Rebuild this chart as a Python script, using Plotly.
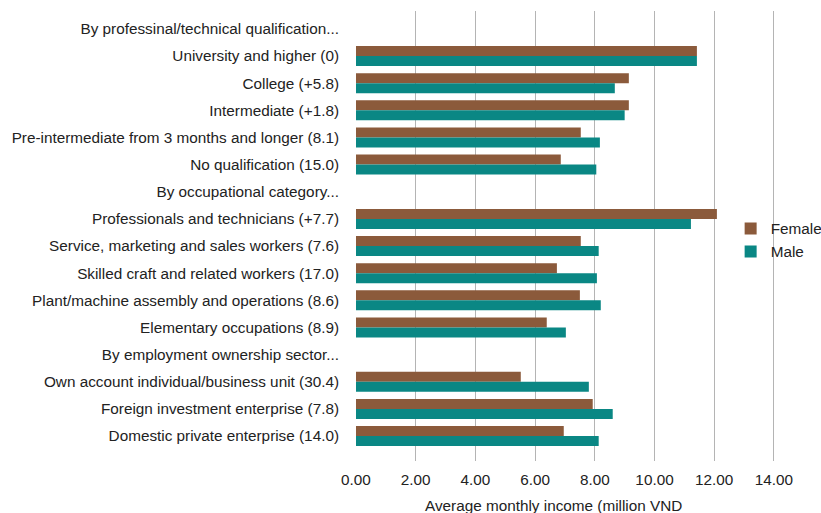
import plotly.graph_objects as go

# Row labels, top to bottom; section headers carry no values
categories = [
    "By professinal/technical qualification...",
    "University and higher (0)",
    "College (+5.8)",
    "Intermediate (+1.8)",
    "Pre-intermediate from 3 months and longer (8.1)",
    "No qualification (15.0)",
    "By occupational category...",
    "Professionals and technicians (+7.7)",
    "Service, marketing and sales workers (7.6)",
    "Skilled craft and related workers (17.0)",
    "Plant/machine assembly and operations (8.6)",
    "Elementary occupations (8.9)",
    "By employment ownership sector...",
    "Own account individual/business unit (30.4)",
    "Foreign investment enterprise (7.8)",
    "Domestic private enterprise (14.0)",
]

# Average monthly income, million VND
female = [None, 11.42, 9.14, 9.14, 7.53, 6.86,
          None, 12.09, 7.53, 6.73, 7.50, 6.39,
          None, 5.52, 7.93, 6.96]
male = [None, 11.42, 8.67, 9.00, 8.17, 8.05,
        None, 11.22, 8.13, 8.07, 8.20, 7.03,
        None, 7.80, 8.60, 8.13]

x_ticks = [0, 2, 4, 6, 8, 10, 12, 14]

FONT = "Liberation Sans, Arial, sans-serif"
TEXT = "#222222"
FS = 15.3

fig = go.Figure()
fig.add_trace(go.Bar(y=categories, x=female, name="Female", orientation="h",
                     marker=dict(color="#8B5A3B", line=dict(width=0))))
fig.add_trace(go.Bar(y=categories, x=male, name="Male", orientation="h",
                     marker=dict(color="#0A8784", line=dict(width=0))))

fig.update_layout(
    width=821, height=513,
    margin=dict(l=356, r=45, t=11, b=52, autoexpand=False),
    paper_bgcolor="white", plot_bgcolor="white",
    font=dict(family=FONT, size=FS, color=TEXT),
    barmode="group", bargap=0.263, bargroupgap=0,
    showlegend=True,
    legend=dict(x=0.892, xanchor="left", y=0.491, yanchor="middle",
                bgcolor="rgba(0,0,0,0)", borderwidth=0,
                font=dict(family=FONT, size=FS, color=TEXT),
                itemclick=False),
    xaxis=dict(range=[0, 14.07], tickvals=x_ticks, tickformat=".2f",
               automargin=False,
               showgrid=True, gridcolor="#b4b4b4", gridwidth=1.3,
               zeroline=False, showline=False, ticks="",
               ticklabelstandoff=8,
               tickfont=dict(family=FONT, size=FS, color=TEXT)),
    yaxis=dict(type="category", categoryorder="array", categoryarray=categories,
               range=[15.92, -0.66], showgrid=False, zeroline=False,
               automargin=False,
               showline=False, ticks="", ticklabelstandoff=16,
               tickfont=dict(family=FONT, size=FS, color=TEXT)),
)

# Clear strip behind the legend so the last gridline is interrupted there
fig.add_shape(type="rect", xref="paper", yref="paper",
              x0=0.88, x1=1.0, y0=0.391, y1=0.589,
              fillcolor="white", line=dict(width=0), layer="between")

fig.add_annotation(text="Average monthly income (million VND",
                   xref="paper", yref="paper", x=0.471, y=-0.0978,
                   xanchor="center", yanchor="middle", showarrow=False,
                   font=dict(family=FONT, size=FS, color=TEXT))

fig.write_html("out.html")
